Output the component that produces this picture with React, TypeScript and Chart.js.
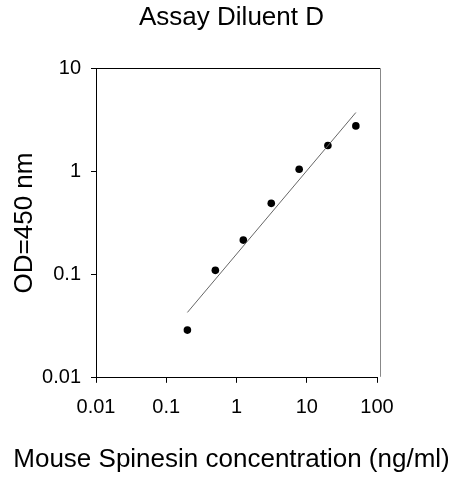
import React, { useEffect, useRef } from "react";
import { Chart, registerables } from "chart.js";

Chart.register(...registerables);

const chartTitle = "Assay Diluent D";
const xAxisTitle = "Mouse Spinesin concentration (ng/ml)";
const yAxisTitle = "OD=450 nm";

const concentrations = [0.2, 0.5, 1.25, 3.125, 7.8, 20, 50];
const odValues = [0.029, 0.11, 0.216, 0.49, 1.05, 1.78, 2.76];

const fitX = [0.2, 50];
const fitY = [0.043, 3.72];

const xTickValues = [0.01, 0.1, 1, 10, 100];
const xTickLabels = ["0.01", "0.1", "1", "10", "100"];
const yTickValues = [0.01, 0.1, 1, 10];
const yTickLabels = ["0.01", "0.1", "1", "10"];

const FONT = "'Liberation Sans', Arial, sans-serif";

const framePlugin = {
  id: "frame",
  afterDatasetsDraw(chart: any) {
    const { ctx, chartArea } = chart;
    const r = chartArea.right + 3;
    ctx.save();
    ctx.lineWidth = 1;
    ctx.strokeStyle = "#000";
    ctx.beginPath();
    ctx.moveTo(chartArea.left, Math.round(chartArea.top) + 0.5);
    ctx.lineTo(r, Math.round(chartArea.top) + 0.5);
    ctx.stroke();
    ctx.strokeStyle = "#888";
    ctx.beginPath();
    ctx.moveTo(Math.round(r) + 0.5, chartArea.top);
    ctx.lineTo(Math.round(r) + 0.5, chartArea.bottom - 1);
    ctx.stroke();
    ctx.restore();
  },
};

function keepTicks(values: number[]) {
  return (scale: any) => {
    scale.ticks = values.map((v) => ({ value: v, major: true }));
  };
}

function labelFor(values: number[], labels: string[]) {
  return (value: any) => {
    const i = values.findIndex((v) => Math.abs(v - Number(value)) / v < 1e-6);
    return i >= 0 ? labels[i] : "";
  };
}

export default function App() {
  const ref = useRef<HTMLCanvasElement | null>(null);

  useEffect(() => {
    if (!ref.current) return;
    const chart = new Chart(ref.current, {
      type: "scatter",
      data: {
        datasets: [
          {
            label: "fit",
            data: fitX.map((x, i) => ({ x, y: fitY[i] })),
            showLine: true,
            borderColor: "#666",
            borderWidth: 1,
            pointRadius: 0,
            fill: false,
          },
          {
            label: "OD",
            data: concentrations.map((x, i) => ({ x, y: odValues[i] })),
            showLine: false,
            backgroundColor: "#000",
            borderColor: "#000",
            borderWidth: 0,
            pointRadius: 3.8,
          },
        ],
      },
      options: {
        animation: false,
        responsive: true,
        maintainAspectRatio: false,
        layout: { padding: 0 },
        plugins: {
          legend: { display: false },
          tooltip: { enabled: false },
          title: {
            display: true,
            text: chartTitle,
            color: "#000",
            font: { family: FONT, size: 26, weight: "normal" },
            padding: { top: 2, bottom: 35 },
          },
          subtitle: {
            display: true,
            position: "bottom",
            text: xAxisTitle,
            color: "#000",
            font: { family: FONT, size: 26, weight: "normal" },
            padding: { top: 0, bottom: 5 },
          },
        },
        scales: {
          x: {
            type: "logarithmic",
            min: 0.01,
            max: 100,
            afterBuildTicks: keepTicks(xTickValues),
            afterFit: (s: any) => {
              s.height = 66;
            },
            grid: {
              drawOnChartArea: false,
              drawTicks: true,
              tickLength: 5,
              color: "#000",
            },
            border: { display: true, color: "#000", width: 1 },
            ticks: {
              autoSkip: false,
              maxRotation: 0,
              color: "#000",
              padding: 13,
              font: { family: FONT, size: 20 },
              callback: labelFor(xTickValues, xTickLabels),
            },
          },
          y: {
            type: "logarithmic",
            min: 0.01,
            max: 10,
            afterBuildTicks: keepTicks(yTickValues),
            afterFit: (s: any) => {
              s.width = 96;
            },
            grid: {
              drawOnChartArea: false,
              drawTicks: true,
              tickLength: 5,
              color: "#000",
            },
            border: { display: true, color: "#000", width: 1 },
            ticks: {
              autoSkip: false,
              color: "#000",
              padding: 10,
              font: { family: FONT, size: 20 },
              callback: labelFor(yTickValues, yTickLabels),
            },
            title: {
              display: true,
              text: yAxisTitle,
              color: "#000",
              font: { family: FONT, size: 26 },
              padding: { top: 9, bottom: 0 },
            },
          },
          yRight: {
            type: "linear",
            position: "right",
            min: 0,
            max: 1,
            afterFit: (s: any) => {
              s.width = 86;
            },
            grid: { display: false },
            border: { display: false },
            ticks: { display: false },
          },
        },
      },
      plugins: [framePlugin],
    } as any);
    return () => chart.destroy();
  }, []);

  return (
    <div
      style={{
        position: "fixed",
        left: 0,
        top: 0,
        width: 463,
        height: 480,
        background: "#fff",
      }}
    >
      <canvas ref={ref} />
    </div>
  );
}
